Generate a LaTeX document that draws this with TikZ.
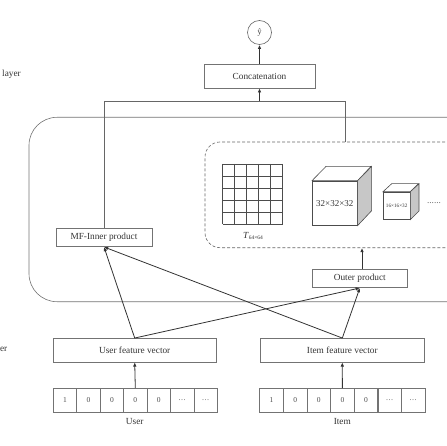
\documentclass[tikz,border=0pt]{standalone}
\usepackage{fontspec}
\setmainfont{Liberation Serif}
\usetikzlibrary{arrows.meta,calc}
\begin{document}
\begin{tikzpicture}[x=1pt,y=-1pt,
  box/.style={draw=black!55, line width=0.6pt, rectangle, inner sep=0pt, text=black!80, font=\fontsize{9.3}{11}\selectfont},
  cell/.style={draw=black!55, line width=0.6pt, minimum width=23.45pt, minimum height=24pt, inner sep=0pt, text=black!70, font=\fontsize{7.5}{9}\selectfont},
  conn/.style={draw=black!60, line width=0.7pt},
  arr/.style={draw=black!80, line width=0.8pt, -{Latex[length=4.2pt,width=3.6pt]}},
  lbl/.style={inner sep=0pt, text=black!80, font=\fontsize{9.3}{11}\selectfont},
  gridline/.style={draw=black!70, line width=0.6pt},
]
\useasboundingbox (0,0) rectangle (446,446);

% side labels
\node[lbl] (lyr1) at (11.5,74.7) {layer};
\node[lbl, anchor=east] (lyr2) at (7.5,349) {er};

% output
\node[draw=black!60, line width=0.6pt, circle, minimum size=24pt, inner sep=0pt, text=black!80, font=\fontsize{8}{9}\selectfont] (yhat) at (259.5,32.5) {ŷ};
\node[box, minimum width=111pt, minimum height=24pt] (concat) at (259.5,76) {Concatenation};

% big rounded region and dashed CNN region
\node[draw=black!55, line width=0.6pt, rounded corners=28pt, minimum width=451pt, minimum height=184.4pt, inner sep=0pt] (net) at (254.5,209.5) {};
\node[draw=black!60, line width=0.6pt, dash pattern=on 3pt off 2pt, rounded corners=15pt, minimum width=275pt, minimum height=105.7pt, inner sep=0pt] (cnn) at (342.5,194.85) {};

% MF inner product and outer product
\node[box, minimum width=96pt, minimum height=18.7pt] (mf) at (104,237.35) {MF-Inner product};
\node[box, minimum width=95pt, minimum height=18.4pt] (op) at (359.8,278.5) {Outer product};

% grid T
\foreach \i in {0,...,5} {
  \draw[gridline] (222.5+12*\i,164) -- (222.5+12*\i,224);
  \draw[gridline] (222.5,164+12*\i) -- (282.5,164+12*\i);
}
\node[lbl] (tlab) at (253,236) {\textit{T}\raisebox{-1.5pt}{\fontsize{5.5}{6}\selectfont 64×64}};

% big cube
\node[draw=black!70, line width=0.6pt, minimum width=45pt, minimum height=44.3pt, inner sep=0pt, text=black!80, font=\fontsize{9}{10}\selectfont] (cubeA) at (334.8,203.15) {32×32×32};
\draw[draw=black!70, line width=0.6pt] (cubeA.north west) -- ++(14,-14.3) -- ++(45,0) -- (cubeA.north east) -- cycle;
\draw[draw=black!70, fill=black!22, line width=0.6pt] (cubeA.north east) -- ++(14,-14.3) -- ++(0,44.3) -- (cubeA.south east) -- cycle;

% small cube
\node[draw=black!70, line width=0.6pt, minimum width=26.7pt, minimum height=27.3pt, inner sep=0pt, text=black!80, font=\fontsize{5.2}{6}\selectfont] (cubeB) at (396.65,205.65) {16×16×32};
\draw[draw=black!70, line width=0.6pt] (cubeB.north west) -- ++(8.7,-8) -- ++(26.7,0) -- (cubeB.north east) -- cycle;
\draw[draw=black!70, fill=black!22, line width=0.6pt] (cubeB.north east) -- ++(8.7,-8) -- ++(0,27.3) -- (cubeB.south east) -- cycle;
\node[lbl, text=black!60] (dots) at (434,203) {......};

% feature vectors
\node[box, minimum width=162.7pt, minimum height=23.7pt] (uf) at (134.7,350.2) {User feature vector};
\node[box, minimum width=163.3pt, minimum height=23.7pt] (itf) at (342.3,350.2) {Item feature vector};

% one-hot vectors
\foreach \v [count=\k] in {1,0,0,0,0,\dots,\dots} {
  \node[cell] (u\k) at (53.3+23.43*\k-11.715,400.3) {\v};
  \node[cell, minimum width=23.6pt] (it\k) at (259.7+23.62*\k-11.81,400.3) {\v};
}
\node[lbl] (ulab) at (134.7,421.7) {User};
\node[lbl] (ilab) at (342.3,421.7) {Item};

% connectors
\coordinate (jl) at (104,101);
\coordinate (jr) at (345.7,101);
\draw[conn] (mf.north) -- (jl) -- (jr) -- (jr |- cnn.north);
\draw[arr] (concat.south |- jl) -- (concat.south);
\draw[arr] (concat.north) -- (yhat.south);
\draw[arr] (op.north -| 362,0) -- (cnn.south -| 362,0);
\draw[arr] (uf.north) -- (mf.south);
\draw[arr] (uf.north) -- (op.south);
\draw[arr] (itf.north) -- (mf.south);
\draw[arr] (itf.north) -- (op.south);
\draw[arr] (u4.north) -- (uf.south);
\draw[arr] (it4.north) -- (itf.south);
\end{tikzpicture}
\end{document}
